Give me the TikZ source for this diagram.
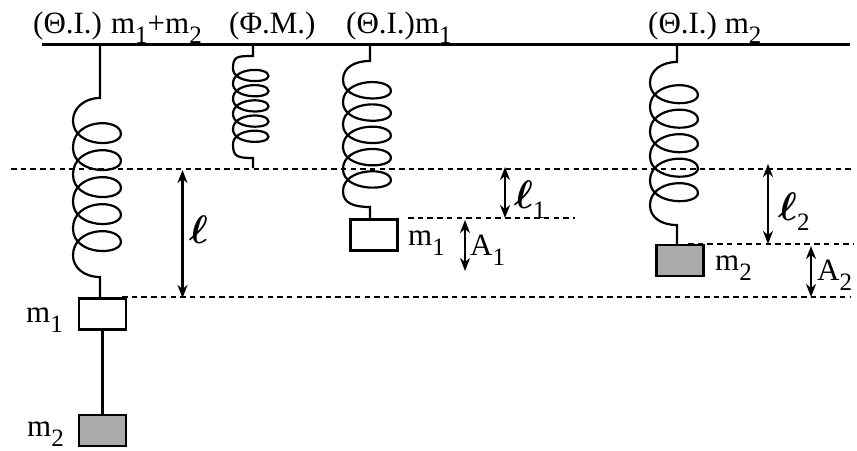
\documentclass[tikz,border=0pt]{standalone}
\usepackage{fontspec}
\usepackage{amsmath}
\usepackage{graphicx}
\setmainfont{Liberation Serif}
\usetikzlibrary{arrows.meta}
\tikzset{
  ceiling/.style={line width=3pt},
  coil/.style={line width=2.2pt},
  level/.style={line width=2.6pt,dash pattern=on 5.5pt off 4.2pt},
  gap/.style={line width=2.2pt,{Stealth[length=13pt,width=10pt,inset=4pt]}-{Stealth[length=13pt,width=10pt,inset=4pt]}},
  mass/.style={draw,line width=2.6pt,rectangle,minimum width=47pt,minimum height=31pt,inner sep=0pt},
  light/.style={mass,fill=white},
  heavy/.style={mass,fill=black!33},
  lab/.style={anchor=base west,inner sep=0pt,font=\fontsize{31}{33}\selectfont}
}
\newcommand{\idx}[1]{\raisebox{-10pt}{\fontsize{25}{26}\selectfont #1}}
\newcommand{\ellsym}{\scalebox{1.6}{$\boldsymbol{\ell}$}}
% spring: axis x, y of top stub end, first loop, pitch, half width, loops, y of curve end, y of bottom stub end
\newcommand{\springcoil}[8]{%
  \draw[coil] (#1,45) -- (#1,#2)
    .. controls ({#1-16},#2) and ({#1-#5*2},{#3-#4/2-12}) .. ({#1-#5*2},{#3-#4/2})
    \foreach \n in {1,...,#6} {
      \pgfextra{\pgfmathsetmacro{\cy}{#3+(\n-1)*#4}}
      .. controls ({#1-#5*2},{\cy+#4*0.52}) and ({#1+#5*1.55},{\cy+#4*0.5}) .. ({#1+#5*1.55},\cy)
      .. controls ({#1+#5*1.55},{\cy-#4*0.6}) and ({#1-#5*2},{\cy-#4*0.6}) .. ({#1-#5*2},{\cy+#4/2})
    }
    .. controls ({#1-#5*2},{#3+(#6-1)*#4+#4/2+12}) and ({#1-16},#7) .. (#1,#7) -- (#1,#8);
}
\begin{document}
\begin{tikzpicture}[x=1pt,y=-1pt]
  \useasboundingbox (0,0) rectangle (857,450);
  % ceiling and levels
  \draw[ceiling] (42,44.5) -- (850,44.5);
  \coordinate (top0) at (11,169);
  \coordinate (top1) at (853,169);
  \coordinate (low0) at (122,297);
  \coordinate (low1) at (850,297);
  \coordinate (mid0) at (408,218);
  \coordinate (mid1) at (575,218);
  \coordinate (alt0) at (688,244);
  \coordinate (alt1) at (853,244);
  \draw[level] (top0) -- (top1);
  \draw[level] (low0) -- (low1);
  \draw[level] (mid0) -- (mid1);
  \draw[level] (alt0) -- (alt1);
  % springs
  \springcoil{100}{98}{134}{27}{13.5}{5}{277}{297}
  \springcoil{253}{56}{76}{15.2}{10}{5}{158}{168}
  \springcoil{370}{61}{91}{22.3}{13.5}{5}{207}{218}
  \springcoil{677}{62}{95}{24.5}{13.5}{5}{225}{244}
  % masses
  \node[light] (massA) at (102.5,314) {};
  \node[heavy] (massB) at (102.5,430.5) {};
  \node[light] (massC) at (374,235) {};
  \node[heavy] (massD) at (680,260.5) {};
  \draw[line width=3pt] (massA) -- (massB);
  % arrows
  \coordinate (g1) at (182.5,170);
  \coordinate (g2) at (182.5,298);
  \coordinate (g3) at (505,167);
  \coordinate (g4) at (505,218);
  \coordinate (g5) at (465,220);
  \coordinate (g6) at (465,271);
  \coordinate (g7) at (768,164);
  \coordinate (g8) at (768,244);
  \coordinate (g9) at (811,246);
  \coordinate (g10) at (811,297);
  \draw[gap] (g1) -- (g2);
  \draw[gap] (g3) -- (g4);
  \draw[gap] (g5) -- (g6);
  \draw[gap] (g7) -- (g8);
  \draw[gap] (g9) -- (g10);
  % labels
  \node[lab] (t1) at (33,33) {(Θ.I.)\hspace{9pt}m\idx{1}+m\idx{2}};
  \node[lab] (t2) at (229,33) {(Φ.M.)};
  \node[lab] (t3) at (346,33) {(Θ.I.)m\idx{1}};
  \node[lab] (t4) at (648,33) {(Θ.I.) m\idx{2}};
  \node[lab] (n1) at (26,322) {m\idx{1}};
  \node[lab] (n2) at (27,436) {m\idx{2}};
  \node[lab] (n3) at (408,245) {m\idx{1}};
  \node[lab] (n4) at (715,270) {m\idx{2}};
  \node[lab] (a1) at (470,255) {A\idx{1}};
  \node[lab] (a2) at (817,280) {A\idx{2}};
  \node[lab] (l0) at (189,243) {\ellsym};
  \node[lab] (l1) at (514,208) {\ellsym\idx{1}};
  \node[lab] (l2) at (778,220) {\ellsym\idx{2}};
\end{tikzpicture}
\end{document}
